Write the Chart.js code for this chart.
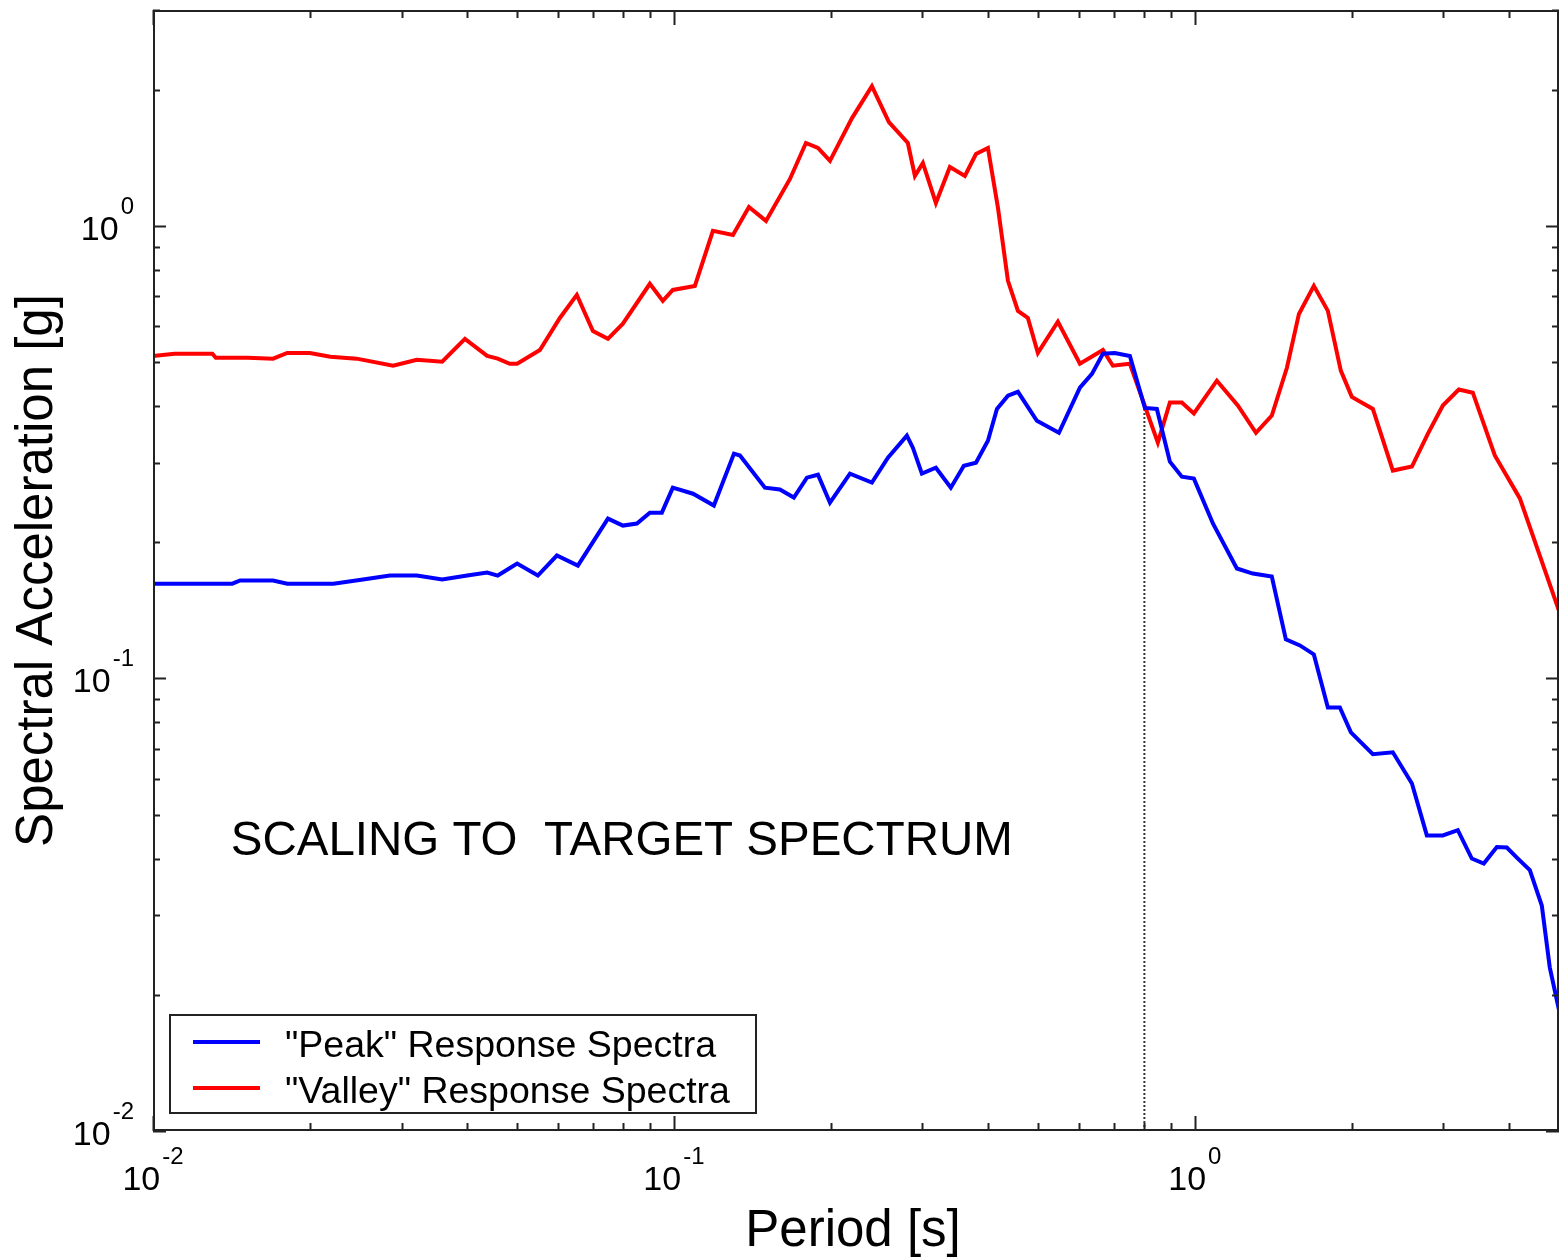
<!DOCTYPE html>
<html>
<head>
<meta charset="utf-8">
<script src="https://cdn.jsdelivr.net/npm/chart.js@4.4.1/dist/chart.umd.min.js"></script>
<style>
  html, body { margin: 0; padding: 0; background: #fff; }
  canvas { display: block; }
</style>
</head>
<body>
<canvas id="chart" width="1559" height="1259"></canvas>
<script>
// Period [s] and spectral acceleration [g]
var peakPeriod = [0.01, 0.0142, 0.0147, 0.017, 0.0181, 0.0222, 0.0253, 0.0285, 0.0321, 0.0359,
  0.0401, 0.0438, 0.0459, 0.05, 0.0548, 0.0596, 0.0654, 0.0747, 0.0798, 0.0849,
  0.0899, 0.0948, 0.0995, 0.1088, 0.1193, 0.1304, 0.1339, 0.1495, 0.1597, 0.1699,
  0.18, 0.189, 0.1993, 0.2177, 0.2399, 0.2575, 0.28, 0.2875, 0.2992, 0.3183,
  0.34, 0.3602, 0.38, 0.4006, 0.4169, 0.4377, 0.4575, 0.4974, 0.5483, 0.6016,
  0.6345, 0.666, 0.702, 0.7503, 0.8017, 0.8453, 0.8954, 0.944, 0.9956, 1.083,
  1.204, 1.292, 1.405, 1.495, 1.591, 1.692, 1.80, 1.898, 1.993, 2.196,
  2.399, 2.61, 2.788, 2.992, 3.197, 3.401, 3.586, 3.799, 3.97, 4.15,
  4.395, 4.634, 4.80, 5.0];
var peakSA = [0.162, 0.162, 0.1646, 0.1646, 0.162, 0.162, 0.1654, 0.1688, 0.1688, 0.1654,
  0.1688, 0.1714, 0.1688, 0.1794, 0.1688, 0.1869, 0.1776, 0.2255, 0.2177, 0.220,
  0.2325, 0.2325, 0.264, 0.256, 0.241, 0.3139, 0.311, 0.264, 0.2615, 0.251,
  0.2778, 0.282, 0.2446, 0.2835, 0.2709, 0.3075, 0.344, 0.3236, 0.2835, 0.2922,
  0.264, 0.2952, 0.2998, 0.3353, 0.394, 0.4214, 0.430, 0.371, 0.349, 0.439,
  0.471, 0.522, 0.524, 0.516, 0.396, 0.394, 0.3013, 0.2792, 0.2764, 0.220,
  0.175, 0.1705, 0.168, 0.122, 0.1183, 0.113, 0.0863, 0.0863, 0.076, 0.068,
  0.0687, 0.0586, 0.045, 0.045, 0.0462, 0.040, 0.039, 0.0424, 0.0423, 0.0402,
  0.0377, 0.0315, 0.023, 0.0185];

var valleyPeriod = [0.01, 0.011, 0.013, 0.0132, 0.0152, 0.017, 0.0181, 0.02, 0.0219, 0.0246,
  0.0289, 0.0321, 0.0359, 0.0397, 0.0438, 0.0459, 0.0484, 0.05, 0.0553, 0.0604,
  0.0651, 0.0699, 0.0747, 0.0798, 0.0899, 0.0952, 0.0995, 0.1097, 0.1188, 0.1298,
  0.1393, 0.1502, 0.167, 0.1792, 0.189, 0.1993, 0.2197, 0.2399, 0.2586, 0.2812,
  0.2901, 0.3005, 0.3183, 0.3386, 0.3618, 0.38, 0.4006, 0.4188, 0.4377, 0.4575,
  0.478, 0.4996, 0.5458, 0.6016, 0.666, 0.696, 0.7503, 0.849, 0.8954, 0.944,
  0.9956, 1.102, 1.209, 1.31, 1.405, 1.502, 1.584, 1.692, 1.80, 1.906,
  2.001, 2.196, 2.399, 2.61, 2.80, 2.992, 3.211, 3.416, 3.765, 4.206, 5.0];
var valleySA = [0.516, 0.522, 0.522, 0.511, 0.511, 0.509, 0.524, 0.524, 0.514, 0.509,
  0.491, 0.506, 0.501, 0.563, 0.516, 0.509, 0.496, 0.496, 0.532, 0.626,
  0.704, 0.586, 0.563, 0.608, 0.745, 0.683, 0.722, 0.737, 0.975, 0.955,
  1.101, 1.026, 1.270, 1.525, 1.487, 1.392, 1.731, 2.037, 1.696, 1.525,
  1.289, 1.378, 1.124, 1.350, 1.289, 1.442, 1.487, 1.096, 0.756, 0.649,
  0.626, 0.524, 0.614, 0.496, 0.532, 0.491, 0.496, 0.332, 0.407, 0.407,
  0.385, 0.455, 0.401, 0.349, 0.381, 0.486, 0.639, 0.737, 0.649, 0.479,
  0.419, 0.394, 0.288, 0.294, 0.347, 0.401, 0.435, 0.428, 0.311, 0.250, 0.141];

// dotted marker at T = 0.8 s
var markerPeriod = [0.8, 0.8];
var markerSA = [0.01, 0.40];

var xRange = [0.01, 5];
var yRange = [0.01, 3];
var xDecades = [0.01, 0.1, 1];
var xTickExp = ['-2', '-1', '0'];
var yDecades = [0.01, 0.1, 1];
var yTickExp = ['-2', '-1', '0'];

var labels = ['"Peak" Response Spectra', '"Valley" Response Spectra'];
var noteText = 'SCALING TO  TARGET SPECTRUM';
var notePos = [0.0141, 0.0435];

var FONT = "'Liberation Sans', Arial, sans-serif";

function zip(xs, ys) {
    var out = [];
    for (var i = 0; i < xs.length; i++) out.push({x: xs[i], y: ys[i]});
    return out;
}

// draws "10" with a superscript exponent, anchored by its left edge
function drawPow(ctx, exp, left, base) {
    ctx.font = '34px ' + FONT;
    ctx.textAlign = 'left';
    ctx.textBaseline = 'alphabetic';
    ctx.fillText('10', left, base);
    var w = ctx.measureText('10').width;
    ctx.font = '24px ' + FONT;
    ctx.fillText(exp, left + w + 2, base - 26);
}
function powWidth(ctx, exp) {
    ctx.font = '34px ' + FONT;
    var w = ctx.measureText('10').width;
    ctx.font = '24px ' + FONT;
    return w + 2 + ctx.measureText(exp).width;
}

var axesPlugin = {
    id: 'axesFrame',
    afterDatasetsDraw: function(chart) {
        var ctx = chart.ctx;
        var a = chart.chartArea;
        var xs = chart.scales.x, ys = chart.scales.y;
        ctx.save();
        ctx.strokeStyle = '#222';
        ctx.fillStyle = '#000';
        ctx.lineWidth = 2;
        ctx.strokeRect(a.left + 1, a.top + 1, a.right - a.left - 2, a.bottom - a.top - 2);

        // ticks, pointing inward on all four sides
        ctx.beginPath();
        xDecades.forEach(function(b) {
            for (var m = 1; m <= 9; m++) {
                var v = m * b;
                if (v > xRange[1] + 1e-9) break;
                var px = Math.round(xs.getPixelForValue(v)) + 0.5;
                var len = m === 1 ? 15 : 8;
                ctx.moveTo(px, a.bottom); ctx.lineTo(px, a.bottom - len);
                ctx.moveTo(px, a.top); ctx.lineTo(px, a.top + len);
            }
        });
        yDecades.forEach(function(b) {
            for (var m = 1; m <= 9; m++) {
                var v = m * b;
                if (v > yRange[1] + 1e-9) break;
                var py = Math.round(ys.getPixelForValue(v)) + 0.5;
                var len = m === 1 ? 13 : 7;
                ctx.moveTo(a.left, py); ctx.lineTo(a.left + len, py);
                ctx.moveTo(a.right, py); ctx.lineTo(a.right - len, py);
            }
        });
        ctx.stroke();

        // tick labels
        xDecades.forEach(function(b, i) {
            var px = xs.getPixelForValue(b);
            var w = powWidth(ctx, xTickExp[i]);
            drawPow(ctx, xTickExp[i], px - w / 2, a.bottom + 59);
        });
        yDecades.forEach(function(b, i) {
            var py = ys.getPixelForValue(b);
            var w = powWidth(ctx, yTickExp[i]);
            drawPow(ctx, yTickExp[i], a.left - 19 - w, py + 14);
        });

        // axis titles
        ctx.font = '51px ' + FONT;
        ctx.textAlign = 'center';
        ctx.textBaseline = 'alphabetic';
        ctx.fillText('Period [s]', (a.left + a.right) / 2 - 3, 1246);
        ctx.save();
        ctx.translate(52, (a.top + a.bottom) / 2);
        ctx.rotate(-Math.PI / 2);
        ctx.fillText('Spectral Acceleration [g]', 0, 0);
        ctx.restore();

        // annotation
        ctx.font = '47.5px ' + FONT;
        ctx.textAlign = 'left';
        ctx.textBaseline = 'middle';
        ctx.fillText(noteText, xs.getPixelForValue(notePos[0]), ys.getPixelForValue(notePos[1]));

        // legend box
        var lx = a.left + 17, ly = a.bottom - 116, lw = 586, lh = 98;
        ctx.fillStyle = '#fff';
        ctx.fillRect(lx, ly, lw, lh);
        ctx.strokeStyle = '#222';
        ctx.lineWidth = 2;
        ctx.strokeRect(lx, ly, lw, lh);
        ctx.font = '37.5px ' + FONT;
        ctx.textAlign = 'left';
        ctx.textBaseline = 'alphabetic';
        for (var k = 0; k < 2; k++) {
            var ds = chart.data.datasets[k];
            var rowY = ly + 27 + k * 46;
            ctx.strokeStyle = ds.borderColor;
            ctx.lineWidth = 4;
            ctx.beginPath();
            ctx.moveTo(lx + 23, rowY); ctx.lineTo(lx + 90, rowY);
            ctx.stroke();
            ctx.fillStyle = '#000';
            ctx.fillText(ds.label, lx + 115, rowY + 15);
        }
        ctx.restore();
    }
};

new Chart(document.getElementById('chart'), {
    type: 'line',
    data: {
        datasets: [
            {
                label: labels[0],
                data: zip(peakPeriod, peakSA),
                borderColor: '#0000ff',
                borderWidth: 4,
                pointRadius: 0,
                tension: 0
            },
            {
                label: labels[1],
                data: zip(valleyPeriod, valleySA),
                borderColor: '#ff0000',
                borderWidth: 4,
                pointRadius: 0,
                tension: 0
            },
            {
                label: 'marker',
                data: zip(markerPeriod, markerSA),
                borderColor: '#333',
                borderWidth: 2,
                borderDash: [2, 2],
                pointRadius: 0
            }
        ]
    },
    options: {
        responsive: false,
        animation: false,
        devicePixelRatio: 1,
        layout: { padding: { left: 153, right: 0, top: 10, bottom: 128 } },
        plugins: { legend: { display: false }, tooltip: { enabled: false } },
        scales: {
            x: { type: 'logarithmic', display: false, min: xRange[0], max: xRange[1] },
            y: { type: 'logarithmic', display: false, min: yRange[0], max: yRange[1] }
        }
    },
    plugins: [axesPlugin]
});
</script>
</body>
</html>
